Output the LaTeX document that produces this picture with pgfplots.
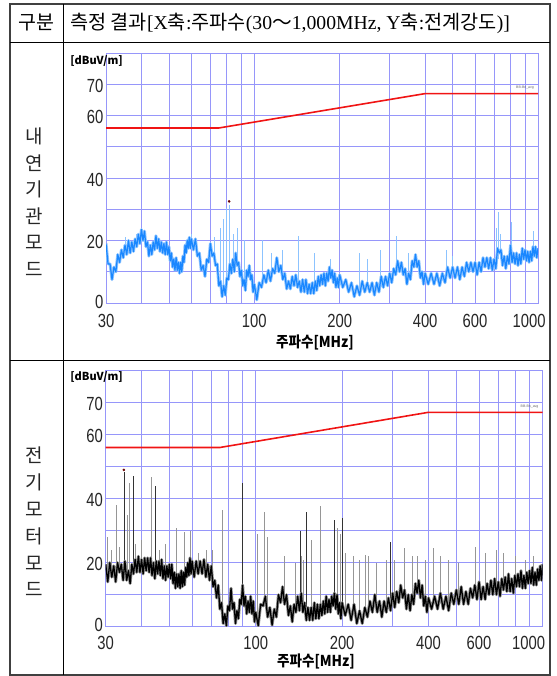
\documentclass[border=0pt]{standalone}
\usepackage{pgfplots}
\usepackage{pgfplotstable}
\pgfplotsset{compat=1.18}
\usepackage{fontspec}
\setmainfont{Liberation Serif}
\newfontfamily\cjk{Noto Sans CJK KR}
\newfontfamily\tickf{Liberation Sans}
\definecolor{gridc}{RGB}{150,150,250}
\definecolor{tr1}{RGB}{25,135,255}
\definecolor{sp1}{RGB}{140,195,255}
\definecolor{sp2}{RGB}{150,150,150}
\definecolor{lim}{RGB}{240,20,20}

\pgfplotstableread{
f a b
30 19 19.5
30.5 12.5 14
31 12.5 20
31.5 7.5 15.5
32 11.5 19
32.5 10 14
33 15.5 20
33.5 13 17
34 17 19.5
34.5 14.5 14.5
35 18.5 20.5
35.5 15.5 14.5
36 20 17.5
36.5 16 13.5
37 19.5 19.5
37.5 16.5 16.5
38 20.5 21
38.5 18 17
39 22 22
39.5 19 17
40 23.5 21
40.5 20 16.5
41 23 21.5
41.5 18 17.5
42 19.5 21.5
42.5 15 17
43 18.5 21.5
43.5 15.5 16
44 19.5 20
44.5 17 15
45 21.5 20.5
45.5 17.5 16.5
46 20.5 20.5
46.5 16.5 16
47 19.5 21
47.5 16 15
48 19 19
48.5 15.5 14.5
49 19.5 19
49.5 15.5 15.5
50 18 19.5
50.5 13.5 15
51 16 19.5
51.5 11.5 13.5
52 14 17
52.5 10.5 12
53 14.5 16.5
53.5 10.5 12.5
54 13 16.5
54.5 9.5 12
55 13 17.5
55.5 10 12.5
56 15 17
56.5 13 13
57 18.5 18.5
57.5 16 15.5
58 20 20
58.5 17.5 16
59 21 21.5
59.5 17.5 16.5
60 20.5 20.5
61 17 15.5
62 20.5 20.5
63 15 16.5
64 16 20.5
65 10.5 16.5
66 12 21
67 8.5 15.5
68 14 19.5
69 13 14.5
70 19 19
71 15 12.5
72 16 14.5
73 12 9
74 12.5 13
75 5.5 5.5
76 7 7.5
77 2 1
78 5.5 4
79 2.5 0.3
80 8 6.5
81 7.5 5
82 12.5 12
83 9.5 5.5
84 14 7.5
85 10 1
86 16 5
87 12 2.5
88 13 8.5
89 8.5 7
90 10.5 13
91 5.5 6.5
92 7.5 9.5
93 4 4
94 10.5 8
95 8.5 4.5
96 12 9.5
97 7.5 4
98 9 8
99 3.5 1.5
100 6 4.5
102 1 0.3
104 6.5 7
106 5 6.5
108 9 9.5
110 6.5 3
112 10.5 6
114 7 0.5
116 11 5.5
118 9.5 3
120 14.5 10
122 10 7.5
124 12 12.5
126 7.5 7
128 9.5 10
130 4.5 3.5
132 7 6.5
134 4.5 1.5
136 8.5 7
138 5.5 4.5
140 9 9.5
142 5 5
144 7 10.5
146 3.5 4.5
148 7.5 7.5
150 3.5 2
152 7.5 6
154 3 2
156 6 6
158 3 2
160 6.5 7.5
162 3 2.5
164 7 7
166 4 2.5
168 8.5 7
170 5.5 3.5
172 9 8
174 6 4
176 9.5 9.5
178 5.5 4.5
180 9.5 8.5
182 7 4.5
184 11.5 9.5
186 8 6.5
188 10.5 10.5
190 6.5 5.5
192 9.5 10
194 5 4
196 8 7.5
198 5 2.5
200 9 7.5
205 5 3.5
210 7.5 7
215 3.5 2
220 6.5 7
225 2 1
230 5.5 5
235 2.5 1
240 7 6
245 3.5 3
250 6.5 8
255 3.5 4.5
260 6.5 10
265 2.5 4.5
270 6.5 8
275 3.5 3
280 8.5 8
285 5 4.5
290 8.5 9
295 5.5 5
300 9.5 10.5
305 6.5 6
310 11 11
315 9 7.5
320 13.5 13
325 10 9
330 13 11.5
335 9 5.5
340 11 10
345 6 5
350 9.5 10
355 7.5 7
360 13.5 13.5
365 11.5 10.5
370 15.5 14.5
375 11.5 9
380 13.5 13
385 8 6.5
390 10 9.5
395 6 4.5
400 9.5 9
410 6 5.5
420 9.5 9.5
430 6 5.5
440 9.5 10.5
450 5.5 5.5
460 9.5 9.5
470 6.5 5
480 11.5 10.5
490 8 7
500 11.5 11.5
510 8 7
520 11.5 12.5
530 7.5 7
540 11.5 11
550 8.5 7
560 13 12
570 10 9
580 13 13
590 10 8.5
600 13 14
610 9 8.5
620 13 12.5
630 10 8.5
640 14.5 13.5
650 11.5 10
660 14.5 14.5
670 11 10
680 14.5 15
690 10.5 10
700 14 14
710 11 9.5
720 17.5 15
730 16 11.5
740 17 15.5
750 12 11
760 15 16.5
770 11 11
780 15 15
790 12.5 10.5
800 18.5 16
810 13 12.5
820 16 16.5
830 12.5 12.5
840 16 17.5
850 12 12
860 15.5 16
870 12.5 12
880 17.5 17
890 14 13.5
900 17 17.5
910 13.5 13.5
920 16.5 18.5
930 13 13
940 16.5 17
950 13.5 13
960 18 18
970 15 14.5
980 18 19
990 14.5 14.5
1000 17.5 19.5
}\trace

\pgfplotstableread{
f y
30 56
75 56
400 67
1000 67
}\limit

\begin{document}
\begin{tikzpicture}[x=1pt,y=1pt]
\useasboundingbox (0pt,0pt) rectangle (556pt,676pt);

% ---------- table ----------
\draw[black!75, line width=1.3pt] (10pt,672pt) rectangle (550pt,1pt);
\draw[black, line width=0.9pt] (10pt,633.3pt) -- (550pt,633.3pt);
\draw[black, line width=0.9pt] (10pt,315.3pt) -- (550pt,315.3pt);
\draw[black, line width=0.9pt] (63pt,672pt) -- (63pt,1pt);

\node[font=\cjk\fontsize{19.5}{20}\selectfont] at (36pt,653pt) {구분};
\node[anchor=west, font=\fontsize{19.7}{20}\selectfont, inner sep=0pt] at (70pt,653pt)
 {{\cjk 측정 결과}[X{\cjk 축}:{\cjk 주파수}(30{\cjk ～}1,000MHz, Y{\cjk 축}:{\cjk 전계강도})]};

\node[align=center, font=\cjk\fontsize{19}{26.5}\selectfont, text=black!85] at (34pt,474pt)
 {내\\연\\기\\관\\모\\드};
\node[align=center, font=\cjk\fontsize{19}{26.8}\selectfont, text=black!85] at (34pt,154pt)
 {전\\기\\모\\터\\모\\드};

% ---------- plot 1 ----------
\begin{axis}[
    at={(106pt,373pt)}, width=432pt, height=250pt,
    scale only axis, anchor=south west,
    xmode=log, xmin=30, xmax=1000, ymin=0, ymax=80,
    xtick={30,40,50,60,70,80,90,100,200,300,400,500,600,700,800,900,1000},
    xticklabels={30,,,,,,,100,200,,400,,600,,,,\kern-23pt 1000},
    ytick={0,10,20,30,40,50,60,70,80},
    yticklabels={\raisebox{6pt}{0},,20,,40,,60,70,},
    grid=major, major grid style={gridc, line width=0.8pt},
    axis line style={gridc, line width=0.8pt},
    major tick length=0pt, minor tick length=0pt,
    tick label style={font=\tickf\fontsize{19}{19}\selectfont, xscale=0.78, text=black!85},
    xticklabel style={yshift=-8pt},
    yticklabel style={yshift=-1.5pt},
    unbounded coords=jump,
]
\addplot[sp1, line width=0.6pt] coordinates {
(35,18) (35,21) (35,nan)
(38.5,18) (38.5,22) (38.5,nan)
(45,18) (45,21) (45,nan)
(60,19) (60,22) (60,nan)
(72,14) (72,21) (72,nan)
(76,6) (76,24) (76,nan)
(78,4) (78,27) (78,nan)
(79.5,4) (79.5,30.5) (79.5,nan)
(81.5,8) (81.5,31.5) (81.5,nan)
(84,12) (84,22) (84,nan)
(87,12) (87,24) (87,nan)
(92,7) (92,20) (92,nan)
(107,6) (107,20) (107,nan)
(115,9) (115,16) (115,nan)
(125,10) (125,17) (125,nan)
(143,6) (143,21.5) (143,nan)
(163,5) (163,16) (163,nan)
(185,9) (185,14) (185,nan)
(235,4) (235,16) (235,nan)
(250,5) (250,14) (250,nan)
(277,5) (277,17) (277,nan)
(317,10) (317,21.5) (317,nan)
(350,9) (350,16) (350,nan)
(475,9) (475,17) (475,nan)
(500,10) (500,15) (500,nan)
(715,13) (715,24) (715,nan)
(725,14) (725,29) (725,nan)
(735,14) (735,22) (735,nan)
(805,14) (805,26) (805,nan)
(960,15) (960,23) (960,nan)
};
\addplot[sp1, line width=3pt, line join=round] table[x=f, y=a] {\trace};
\addplot[tr1, line width=1.2pt, line join=round] table[x=f, y=a] {\trace};
\addplot[lim, line width=1.6pt] table[x=f, y=y] {\limit};
\addplot[only marks, mark=*, mark size=1.1pt, color=black!60!red] coordinates {(81.5,32.5)};
\node[font=\tickf\fontsize{3.5}{3.5}\selectfont, text=black!60, anchor=south] at (axis cs:900,67.3) {BB-Bn\_avg};
\end{axis}

% ---------- plot 2 ----------
\begin{axis}[
    at={(105.7pt,49.3pt)}, width=437pt, height=256pt,
    scale only axis, anchor=south west,
    xmode=log, xmin=30, xmax=1000, ymin=0, ymax=80,
    xtick={30,40,50,60,70,80,90,100,200,300,400,500,600,700,800,900,1000},
    xticklabels={30,,,,,,,100,200,,400,,600,,,,\kern-36pt 1000},
    ytick={0,10,20,30,40,50,60,70,80},
    yticklabels={\raisebox{6pt}{0},,20,,40,,60,70,},
    grid=major, major grid style={gridc, line width=0.8pt},
    axis line style={gridc, line width=0.8pt},
    major tick length=0pt, minor tick length=0pt,
    tick label style={font=\tickf\fontsize{19}{19}\selectfont, xscale=0.78, text=black!85},
    xticklabel style={yshift=-6pt},
    yticklabel style={yshift=-1.5pt},
    unbounded coords=jump,
]
\addplot[sp2, line width=0.6pt] coordinates {
(30.5,16) (30.5,28) (30.5,nan)
(31.5,17) (31.5,24) (31.5,nan)
(32.7,17) (32.7,38) (32.7,nan)
(33.5,17) (33.5,25) (33.5,nan)
(35.7,16) (35.7,35) (35.7,nan)
(36.3,16) (36.3,45) (36.3,nan)
(38,18) (38,26) (38,nan)
(40,19) (40,27) (40,nan)
(43.3,18) (43.3,46.7) (43.3,nan)
(46,18) (46,24) (46,nan)
(48.5,17) (48.5,26) (48.5,nan)
(53,14) (53,31) (53,nan)
(56.5,16) (56.5,29.7) (56.5,nan)
(59,18) (59,30) (59,nan)
(63,18) (63,23) (63,nan)
(67.4,18) (67.4,24) (67.4,nan)
(70.5,17) (70.5,24) (70.5,nan)
(76.2,6) (76.2,36.5) (76.2,nan)
(101,3) (101,29) (101,nan)
(107,8) (107,36) (107,nan)
(110,5) (110,28) (110,nan)
(126,9) (126,22) (126,nan)
(137,5) (137,20) (137,nan)
(144,7) (144,22) (144,nan)
(147,6) (147,21) (147,nan)
(156,3.5) (156,27) (156,nan)
(168,5) (168,37.8) (168,nan)
(193,7) (193,31) (193,nan)
(197,6) (197,29) (197,nan)
(205,5) (205,23) (205,nan)
(218,4) (218,22) (218,nan)
(230,3.5) (230,21) (230,nan)
(240,4) (240,22.5) (240,nan)
(247,4.5) (247,22) (247,nan)
(263,7) (263,20) (263,nan)
(285,6) (285,21) (285,nan)
(305,8.5) (305,21) (305,nan)
(330,9) (330,24.7) (330,nan)
(350,8.5) (350,22) (350,nan)
(367,12) (367,22) (367,nan)
(390,8) (390,21) (390,nan)
(414,7) (414,24.6) (414,nan)
(440,7.5) (440,22) (440,nan)
(468,8) (468,21) (468,nan)
(510,9) (510,20) (510,nan)
(580,10.5) (580,25) (580,nan)
(630,11.5) (630,23) (630,nan)
(690,12.5) (690,24) (690,nan)
(730,13) (730,23) (730,nan)
(800,14) (800,22) (800,nan)
(870,15) (870,21) (870,nan)
(930,15.5) (930,22) (930,nan)
};
\addplot[black!80, line width=0.6pt] coordinates {
(34.7,17) (34.7,48.4) (34.7,nan)
(37.3,17) (37.3,47) (37.3,nan)
(44.6,18) (44.6,44) (44.6,nan)
(89.6,9) (89.6,45) (89.6,nan)
(143,7) (143,30) (143,nan)
(150,5) (150,36) (150,nan)
(188,8) (188,33.3) (188,nan)
(200,5.5) (200,34) (200,nan)
(294,6.5) (294,26.6) (294,nan)
};
\addplot[black!45, line width=3pt, line join=round] table[x=f, y=b] {\trace};
\addplot[black, line width=1.3pt, line join=round] table[x=f, y=b] {\trace};
\addplot[lim, line width=1.6pt] table[x=f, y=y] {\limit};
\addplot[only marks, mark=*, mark size=1.1pt, color=black!60!red] coordinates {(34.7,49)};
\node[font=\tickf\fontsize{3.5}{3.5}\selectfont, text=black!60, anchor=south] at (axis cs:900,67.3) {BB-Bn\_avg};
\end{axis}

% ---------- labels ----------
\node[font=\cjk\bfseries\fontsize{11}{11}\selectfont, inner sep=0pt] at (96.5pt,615pt) {[dBuV/m]};
\node[font=\cjk\bfseries\fontsize{11}{11}\selectfont, inner sep=0pt] at (96.5pt,299.3pt) {[dBuV/m]};
\node[font=\cjk\bfseries\fontsize{15}{15}\selectfont, inner sep=0pt, xscale=0.9] at (315pt,333.5pt) {주파수[MHz]};
\node[font=\cjk\bfseries\fontsize{15}{15}\selectfont, inner sep=0pt, xscale=0.9] at (316pt,15pt) {주파수[MHz]};
\end{tikzpicture}
\end{document}
